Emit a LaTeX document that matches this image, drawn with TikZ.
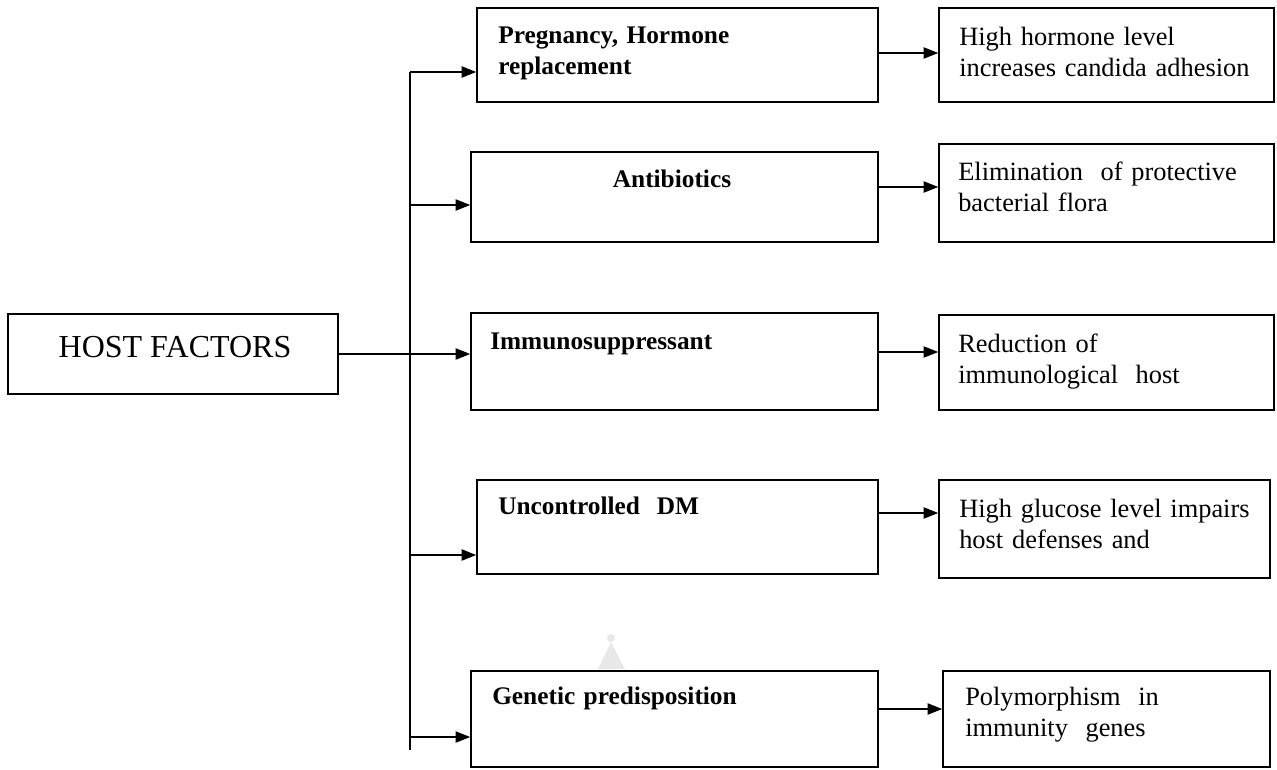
\documentclass[tikz,border=0pt]{standalone}
\usepackage{fontspec}
\setmainfont{Liberation Serif}
\usetikzlibrary{arrows.meta}

\tikzset{
  box/.style={draw, line width=1.2pt, inner sep=0pt},
  midfont/.style={font=\fontsize{19}{23.25}\selectfont\bfseries},
  outfont/.style={font=\fontsize{19.8}{23.25}\selectfont},
  midtxt/.style={midfont, anchor=base west, inner sep=0pt, text width=280pt, align=left},
  outtxt/.style={outfont, anchor=base west, inner sep=0pt, text width=240pt, align=left},
  arr/.style={-{Triangle[length=11pt,width=8.5pt]}, line width=1pt},
}

\begin{document}
\begin{tikzpicture}[x=0.75pt,y=-0.75pt]
\useasboundingbox (0,0) rectangle (1277,769);
% faint mark above the last box
\fill[gray!18] (598,669) -- (611,642) -- (625,669) -- cycle;
\fill[gray!18] (611,638) circle (4);
% boxes
\node[box, minimum width=247.5pt, minimum height=60pt] (host) at (173,354) {};
\node[box, minimum width=300.75pt, minimum height=70.5pt] (preg) at (677.5,55) {};
\node[box, minimum width=305.25pt, minimum height=67.5pt] (anti) at (674.5,197) {};
\node[box, minimum width=305.25pt, minimum height=72.75pt] (immu) at (674.5,361.5) {};
\node[box, minimum width=300.75pt, minimum height=70.5pt] (dm) at (677.5,527) {};
\node[box, minimum width=305.25pt, minimum height=72pt] (gen) at (674.5,719) {};
\node[box, minimum width=251.25pt, minimum height=70.5pt] (r1) at (1106.5,55) {};
\node[box, minimum width=251.25pt, minimum height=73.5pt] (r2) at (1106.5,193) {};
\node[box, minimum width=251.25pt, minimum height=71.25pt] (r3) at (1106.5,362.5) {};
\node[box, minimum width=248.25pt, minimum height=73.5pt] (r4) at (1104.5,529) {};
\node[box, minimum width=245.25pt, minimum height=72pt] (r5) at (1106.5,719) {};
% texts
\node[anchor=base, inner sep=0pt, font=\fontsize{24}{28}\selectfont] (hosttxt) at (175,357) {HOST FACTORS};
\node[midtxt] (pregtxt) at (498,43) {Pregnancy, Hormone\\replacement};
\node[midfont, anchor=base, inner sep=0pt] (antitxt) at (672,187) {Antibiotics};
\node[midtxt] (immutxt) at (490,349) {Immunosuppressant};
\node[midtxt] (dmtxt) at (498,514) {Uncontrolled\ \ DM};
\node[midtxt] (gentxt) at (492,704) {Genetic predisposition};
\node[outtxt] (r1txt) at (959,45) {High hormone level\\increases candida adhesion};
\node[outtxt] (r2txt) at (958,180) {Elimination\ \ of protective\\bacterial flora};
\node[outtxt] (r3txt) at (958,352) {Reduction of\\immunological\ \ host};
\node[outtxt] (r4txt) at (959,517) {High glucose level impairs\\host defenses and};
\node[outtxt] (r5txt) at (965,705) {Polymorphism\ \ in\\immunity\ \ genes};
% bus and arrows
\coordinate (bt) at (410,72);
\coordinate (bb) at (410,750);
\draw[line width=1pt] (bt) -- (bb);
\foreach \b/\y in {preg/72, anti/205, dm/555, gen/737}
  \draw[arr] (bt |- 0,\y) -- (\b.west |- 0,\y);
\draw[arr] (host.east) -- (host.east -| immu.west);
\foreach \m/\r/\y in {preg/r1/53, anti/r2/187, immu/r3/352, dm/r4/513, gen/r5/709}
  \draw[arr] (\m.east |- 0,\y) -- (\r.west |- 0,\y);
\end{tikzpicture}
\end{document}
